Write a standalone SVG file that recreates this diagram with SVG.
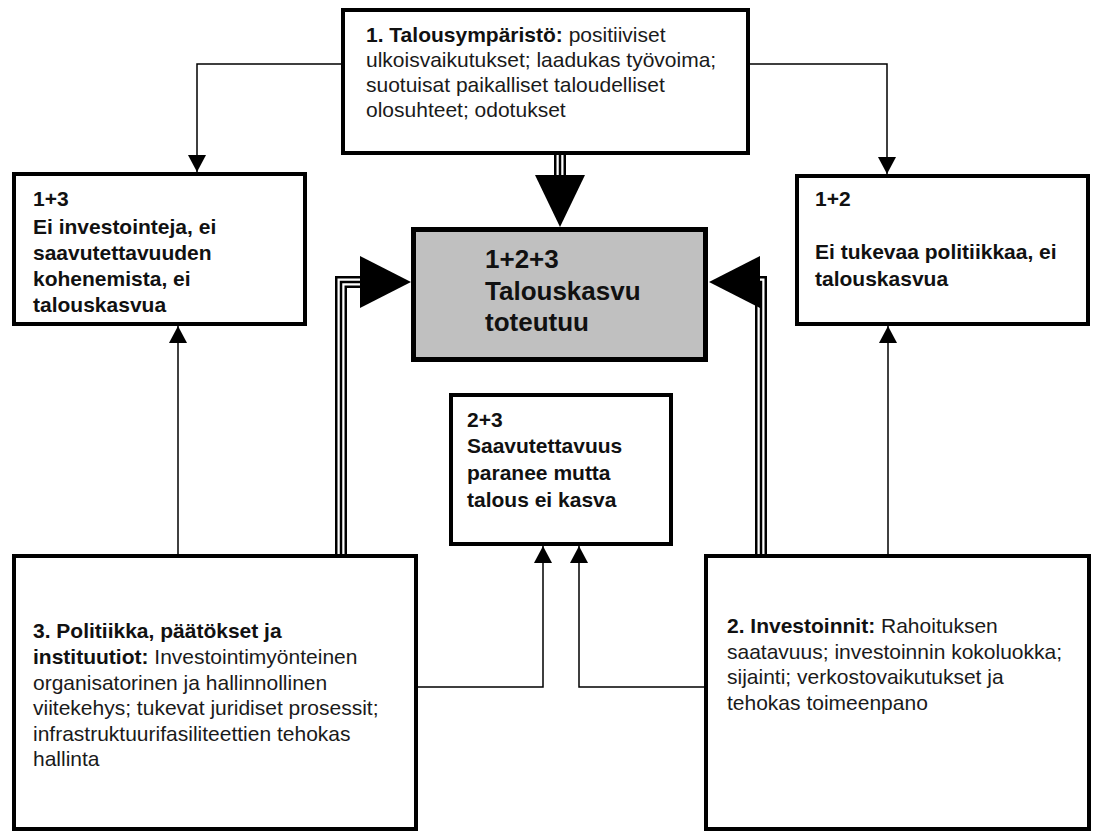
<svg xmlns="http://www.w3.org/2000/svg" width="1094" height="832" viewBox="0 0 1094 832">
<style>
.box{fill:#fff;stroke:#000;stroke-width:4}
.core{fill:#c0c0c0;stroke:#000;stroke-width:5}
.t{font-family:"Liberation Sans",Arial,sans-serif;font-size:21px;fill:#1a1a1a}
.b{font-weight:bold;fill:#111}
.thin{fill:none;stroke:#000;stroke-width:1.5}
.tw1{fill:none;stroke:#000;stroke-width:12}
.tw2{fill:none;stroke:#fff;stroke-width:7}
.tw3{fill:none;stroke:#000;stroke-width:2.5}
</style>
<defs>
<marker id="ah" viewBox="0 0 17 18" refX="17" refY="9" markerWidth="17" markerHeight="18" markerUnits="userSpaceOnUse" orient="auto">
<path d="M0,0 L17,9 L0,18 z" fill="#000"/>
</marker>
</defs>
<rect width="1094" height="832" fill="#fff"/>
<g id="connectors">
<path class="thin" d="M343,64 H197 V172" marker-end="url(#ah)"/>
<path class="thin" d="M748,64 H887 V174" marker-end="url(#ah)"/>
<path class="thin" d="M178,554 V326" marker-end="url(#ah)"/>
<path class="thin" d="M888,554 V326" marker-end="url(#ah)"/>
<path class="thin" d="M416,687 H543 V546" marker-end="url(#ah)"/>
<path class="thin" d="M706,687 H579 V546" marker-end="url(#ah)"/>
<path class="tw1" d="M560,153 V180"/>
<path class="tw2" d="M560,153 V180"/>
<path class="tw3" d="M560,153 V180"/>
<polygon points="535,175 585,175 560,227" fill="#000"/>
<path class="tw1" d="M341,554 V282 H370"/>
<path class="tw2" d="M341,554 V282 H370"/>
<path class="tw3" d="M341,554 V282 H370"/>
<polygon points="360,256 360,308 411,282" fill="#000"/>
<path class="tw1" d="M761,554 V282 H750"/>
<path class="tw2" d="M761,554 V282 H750"/>
<path class="tw3" d="M761,554 V282 H750"/>
<polygon points="760,256 760,308 709,282" fill="#000"/>
</g>
<g id="n1">
<rect class="box" x="343" y="10" width="405" height="143"/>
<text class="t" x="366" y="42"><tspan class="b">1. Talousympäristö:</tspan> positiiviset</text>
<text class="t" x="366" y="67">ulkoisvaikutukset; laadukas työvoima;</text>
<text class="t" x="366" y="92">suotuisat paikalliset taloudelliset</text>
<text class="t" x="366" y="117">olosuhteet; odotukset</text>
</g>
<g id="n13">
<rect class="box" x="14" y="174" width="291" height="150"/>
<text class="t b" x="33" y="206">1+3</text>
<text class="t b" x="33" y="234">Ei investointeja, ei</text>
<text class="t b" x="33" y="260">saavutettavuuden</text>
<text class="t b" x="33" y="286">kohenemista, ei</text>
<text class="t b" x="33" y="312">talouskasvua</text>
</g>
<g id="n12">
<rect class="box" x="797" y="176" width="291" height="148"/>
<text class="t b" x="815" y="206">1+2</text>
<text class="t b" x="815" y="259">Ei tukevaa politiikkaa, ei</text>
<text class="t b" x="815" y="286">talouskasvua</text>
</g>
<g id="n123">
<rect class="core" x="413.5" y="229.5" width="292" height="130"/>
<text class="t b" x="485" y="268" style="font-size:26px">1+2+3</text>
<text class="t b" x="485" y="300" style="font-size:26px">Talouskasvu</text>
<text class="t b" x="485" y="331" style="font-size:26px">toteutuu</text>
</g>
<g id="n23">
<rect class="box" x="451" y="395" width="220" height="149"/>
<text class="t b" x="467" y="427">2+3</text>
<text class="t b" x="467" y="453">Saavutettavuus</text>
<text class="t b" x="467" y="480">paranee mutta</text>
<text class="t b" x="467" y="507">talous ei kasva</text>
</g>
<g id="n3">
<rect class="box" x="14" y="556" width="402" height="273"/>
<text class="t" x="33" y="638"><tspan class="b">3. Politiikka, päätökset ja</tspan></text>
<text class="t" x="33" y="664"><tspan class="b">instituutiot:</tspan> Investointimyönteinen</text>
<text class="t" x="33" y="690">organisatorinen ja hallinnollinen</text>
<text class="t" x="33" y="715">viitekehys; tukevat juridiset prosessit;</text>
<text class="t" x="33" y="741">infrastruktuurifasiliteettien tehokas</text>
<text class="t" x="33" y="766">hallinta</text>
</g>
<g id="n2">
<rect class="box" x="706" y="556" width="383" height="273"/>
<text class="t" x="727" y="633"><tspan class="b">2. Investoinnit:</tspan> Rahoituksen</text>
<text class="t" x="727" y="659">saatavuus; investoinnin kokoluokka;</text>
<text class="t" x="727" y="684">sijainti; verkostovaikutukset ja</text>
<text class="t" x="727" y="710">tehokas toimeenpano</text>
</g>
</svg>
